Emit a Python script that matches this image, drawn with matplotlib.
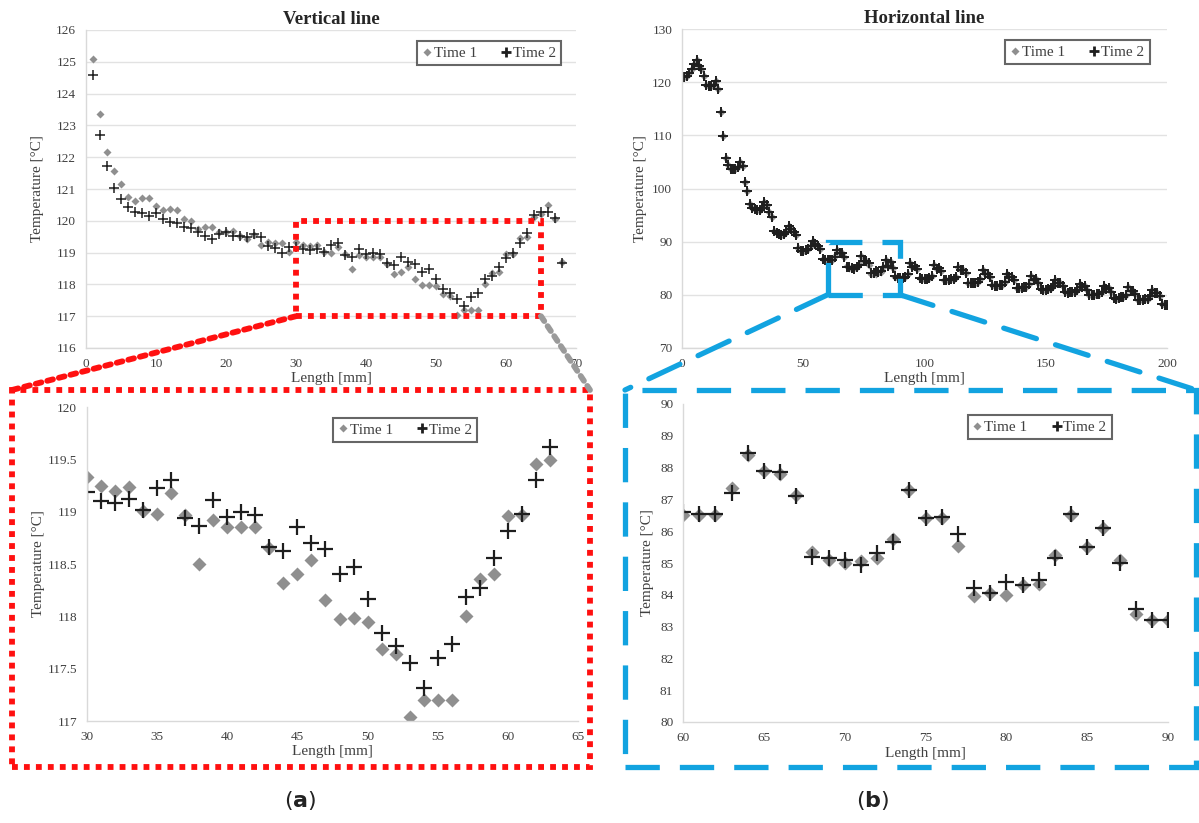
import numpy as np
import matplotlib.pyplot as plt
from matplotlib.patches import Rectangle, ConnectionPatch
from matplotlib.lines import Line2D
from matplotlib.ticker import FuncFormatter

plt.rcParams['font.family'] = ['Liberation Serif', 'DejaVu Serif']

# ================== data ============================= #
# vertical line, length 1..68 mm
v_x = list(range(1, 69))
v_time1 = [125.1, 123.35, 122.15, 121.57, 121.15, 120.75, 120.62, 120.72, 120.72, 120.46,
           120.33, 120.36, 120.33, 120.05, 119.98, 119.75, 119.8, 119.8, 119.64, 119.64,
           119.67, 119.53, 119.43, 119.55, 119.24, 119.33, 119.3, 119.3, 119.02, 119.33,
           119.25, 119.2, 119.24, 119.01, 118.98, 119.18, 118.97, 118.5, 118.92, 118.85,
           118.85, 118.85, 118.65, 118.32, 118.4, 118.54, 118.16, 117.97, 117.98, 117.95,
           117.69, 117.64, 117.04, 117.2, 117.2, 117.2, 118.0, 118.36, 118.4, 118.96,
           118.97, 119.46, 119.49, 120.13, 120.2, 120.5, 120.05, 118.7]
v_time2 = [124.6, 122.7, 121.73, 121.02, 120.68, 120.42, 120.27, 120.24, 120.16, 120.24,
           120.05, 119.96, 119.92, 119.8, 119.76, 119.64, 119.53, 119.42, 119.6, 119.64,
           119.53, 119.53, 119.48, 119.57, 119.5, 119.21, 119.15, 118.99, 119.18, 119.19,
           119.1, 119.08, 119.12, 119.02, 119.23, 119.3, 118.94, 118.86, 119.11, 118.95,
           119.0, 118.97, 118.66, 118.62, 118.85, 118.7, 118.64, 118.4, 118.47, 118.17,
           117.84, 117.72, 117.55, 117.32, 117.6, 117.74, 118.18, 118.27, 118.56, 118.82,
           118.98, 119.3, 119.62, 120.18, 120.29, 120.29, 120.1, 118.66]

# horizontal line, length 1..200 mm
h_x = list(range(1, 201))
h_time1 = [121.0, 121.2, 121.7, 122.4, 123.4, 124.2, 123.0, 122.4, 121.2, 119.4,
           119.3, 119.3, 119.4, 120.2, 118.8, 114.3, 109.9, 105.8, 104.4, 103.7,
           103.6, 103.7, 104.0, 104.9, 104.2, 101.3, 99.5, 97.0, 96.3, 96.1,
           95.9, 96.0, 96.4, 97.4, 96.9, 95.6, 94.6, 92.1, 91.6, 91.4,
           91.3, 91.5, 91.9, 92.9, 92.3, 91.9, 91.3, 88.8, 88.3, 88.2,
           88.4, 88.6, 89.2, 90.2, 89.6, 89.2, 88.7, 86.7, 86.6, 86.5,
           86.5, 86.5, 87.35, 88.4, 87.9, 87.8, 87.15, 85.35, 85.1, 85.0,
           85.05, 85.15, 85.75, 87.3, 86.4, 86.4, 85.55, 83.95, 84.05, 84.0,
           84.3, 84.35, 85.25, 86.5, 85.5, 86.1, 85.1, 83.4, 83.2, 83.2,
           83.2, 83.3, 83.9, 86.0, 85.3, 85.4, 84.8, 83.1, 82.9, 83.0,
           83.0, 83.2, 83.6, 85.6, 84.9, 85.0, 84.4, 82.8, 82.7, 82.8,
           82.9, 83.0, 83.4, 85.3, 84.6, 84.7, 84.1, 82.3, 82.2, 82.2,
           82.3, 82.4, 82.9, 84.6, 83.9, 84.0, 83.4, 81.8, 81.7, 81.7,
           81.8, 81.9, 82.4, 84.0, 83.3, 83.4, 82.8, 81.3, 81.2, 81.3,
           81.4, 81.5, 82.0, 83.5, 82.8, 82.9, 82.3, 81.1, 81.0, 81.0,
           81.1, 81.2, 81.6, 82.8, 82.2, 82.3, 81.7, 80.5, 80.4, 80.5,
           80.6, 80.6, 81.0, 82.1, 81.5, 81.6, 81.0, 80.0, 79.9, 80.0,
           80.1, 80.1, 80.6, 81.7, 81.1, 81.2, 80.6, 79.4, 79.3, 79.4,
           79.5, 79.5, 80.0, 81.4, 80.7, 80.8, 80.2, 79.1, 79.0, 79.1,
           79.2, 79.2, 79.7, 80.9, 80.3, 80.4, 79.7, 78.2, 78.1, 78.1]
h_time2 = [121.0, 121.2, 121.7, 122.4, 123.4, 124.2, 123.0, 122.4, 121.2, 119.4,
           119.3, 119.3, 119.4, 120.2, 118.8, 114.3, 109.9, 105.8, 104.4, 103.7,
           103.6, 103.7, 104.0, 104.9, 104.2, 101.3, 99.5, 97.0, 96.3, 96.1,
           95.9, 96.0, 96.4, 97.4, 96.9, 95.6, 94.6, 92.1, 91.6, 91.4,
           91.3, 91.5, 91.9, 92.9, 92.3, 91.9, 91.3, 88.8, 88.3, 88.2,
           88.4, 88.6, 89.2, 90.2, 89.6, 89.2, 88.7, 86.7, 86.6, 86.6,
           86.55, 86.55, 87.2, 88.45, 87.9, 87.85, 87.1, 85.2, 85.15, 85.1,
           84.95, 85.3, 85.65, 87.3, 86.4, 86.45, 85.9, 84.2, 84.05, 84.4,
           84.3, 84.45, 85.15, 86.55, 85.5, 86.1, 85.0, 83.55, 83.2, 83.2,
           83.2, 83.3, 83.9, 86.0, 85.3, 85.4, 84.8, 83.1, 82.9, 83.0,
           83.0, 83.2, 83.6, 85.6, 84.9, 85.0, 84.4, 82.8, 82.7, 82.8,
           82.9, 83.0, 83.4, 85.3, 84.6, 84.7, 84.1, 82.3, 82.2, 82.2,
           82.3, 82.4, 82.9, 84.6, 83.9, 84.0, 83.4, 81.8, 81.7, 81.7,
           81.8, 81.9, 82.4, 84.0, 83.3, 83.4, 82.8, 81.3, 81.2, 81.3,
           81.4, 81.5, 82.0, 83.5, 82.8, 82.9, 82.3, 81.1, 81.0, 81.0,
           81.1, 81.2, 81.6, 82.8, 82.2, 82.3, 81.7, 80.5, 80.4, 80.5,
           80.6, 80.6, 81.0, 82.1, 81.5, 81.6, 81.0, 80.0, 79.9, 80.0,
           80.1, 80.1, 80.6, 81.7, 81.1, 81.2, 80.6, 79.4, 79.3, 79.4,
           79.5, 79.5, 80.0, 81.4, 80.7, 80.8, 80.2, 79.1, 79.0, 79.1,
           79.2, 79.2, 79.7, 80.9, 80.3, 80.4, 79.7, 78.2, 78.1, 78.1]

# axis ranges / ticks
v_xlim, v_ylim = (0, 70), (116, 126)
v_xticks, v_yticks = np.arange(0, 71, 10), np.arange(116, 127, 1)
h_xlim, h_ylim = (0, 200), (70, 130)
h_xticks, h_yticks = np.arange(0, 201, 50), np.arange(70, 131, 10)

# zoom windows
vz_xlim, vz_ylim = (30, 65), (117, 120)
vz_xticks, vz_yticks = np.arange(30, 66, 5), np.arange(117, 120.01, 0.5)
hz_xlim, hz_ylim = (60, 90), (80, 90)
hz_xticks, hz_yticks = np.arange(60, 91, 5), np.arange(80, 91, 1)

GREY = '#8f8f8f'
BLACK = '#1e1e1e'
RED = '#ff1010'
BLUE = '#12a3e0'
TXT = '#404040'

W, H = 1199, 823
fig = plt.figure(figsize=(W / 100, H / 100), dpi=100)


def px_axes(l, r, t, b):
    return fig.add_axes([l / W, (H - b) / H, (r - l) / W, (b - t) / H])


def style(ax, grid, ypad):
    for s in ['top', 'right']:
        ax.spines[s].set_visible(False)
    for s in ['left', 'bottom']:
        ax.spines[s].set_color('#d9d9d9')
        ax.spines[s].set_linewidth(1.0)
    ax.tick_params(length=0, colors=TXT, labelsize=9.5, pad=7)
    ax.yaxis.set_major_formatter(FuncFormatter(lambda v, p: '%g' % v))
    if grid:
        ax.yaxis.grid(True, color='#e2e2e2', lw=1.0)
        ax.set_axisbelow(True)
    ax.set_xlabel('Length [mm]', fontsize=11, color=TXT, labelpad=2)
    ax.set_ylabel('Temperature [\u00b0C]', fontsize=11, color=TXT, labelpad=ypad)


def legend(ax, ms_d, ms_p, anchor):
    hd = [Line2D([], [], ls='none', marker='D', ms=ms_d, color=GREY, mec='none'),
          Line2D([], [], ls='none', marker='+', ms=ms_p, mew=2, color=BLACK)]
    lg = ax.legend(hd, ['Time 1', 'Time 2'], ncol=2, loc='upper right',
                   bbox_to_anchor=anchor, fontsize=11, frameon=True, fancybox=False,
                   handlelength=0.6, handletextpad=0.15, columnspacing=1.6,
                   borderpad=0.35)
    lg.get_frame().set_edgecolor('#404040')
    lg.get_frame().set_linewidth(1.5)
    for t in lg.get_texts():
        t.set_color(TXT)


# ---- top-left : vertical line ----
ax1 = px_axes(86, 576, 30, 348)
ax1.plot(v_x, v_time1, ls='none', marker='D', ms=3.6, color=GREY, mec='none')
ax1.plot(v_x, v_time2, ls='none', marker='+', ms=7, mew=1.1, color=BLACK)
ax1.set_xlim(v_xlim)
ax1.set_ylim(v_ylim)
ax1.set_xticks(v_xticks)
ax1.set_yticks(v_yticks)
style(ax1, True, 9)
ax1.set_title('Vertical line', fontsize=13.5, fontweight='bold', color='#262626', pad=4)
legend(ax1, 4, 7, (0.985, 0.99))

# ---- top-right : horizontal line ----
ax2 = px_axes(682, 1167, 29, 348)
ax2.plot(h_x, h_time1, ls='none', marker='D', ms=3.6, color=GREY, mec='none')
ax2.plot(h_x, h_time2, ls='none', marker='+', ms=7, mew=1.4, color=BLACK)
ax2.set_xlim(h_xlim)
ax2.set_ylim(h_ylim)
ax2.set_xticks(h_xticks)
ax2.set_yticks(h_yticks)
style(ax2, True, 4)
ax2.set_title('Horizontal line', fontsize=13.5, fontweight='bold', color='#262626', pad=4)
legend(ax2, 4, 7, (0.98, 0.99))

# ---- bottom-left : zoom of vertical line ----
ax3 = px_axes(87, 578, 407, 721)
ax3.plot(v_x, v_time1, ls='none', marker='D', ms=7, color=GREY, mec='none', clip_on=True)
ax3.plot(v_x, v_time2, ls='none', marker='+', ms=12, mew=1.6, color=BLACK)
ax3.set_xlim(vz_xlim)
ax3.set_ylim(vz_ylim)
ax3.set_xticks(vz_xticks)
ax3.set_yticks(vz_yticks)
style(ax3, False, 2)
legend(ax3, 4, 7, (0.81, 0.99))

# ---- bottom-right : zoom of horizontal line ----
ax4 = px_axes(683, 1168, 404, 722)
ax4.plot(h_x, h_time1, ls='none', marker='D', ms=7, color=GREY, mec='none')
ax4.plot(h_x, h_time2, ls='none', marker='+', ms=12, mew=1.6, color=BLACK)
ax4.set_xlim(hz_xlim)
ax4.set_ylim(hz_ylim)
ax4.set_xticks(hz_xticks)
ax4.set_yticks(hz_yticks)
style(ax4, False, 4)
legend(ax4, 4, 7, (0.9, 0.99))

# ---- zoom boxes and connectors ----
dot = dict(lw=4.2, ls=(0, (1, 1.05)), dash_capstyle='butt')
dash = dict(lw=3.8, ls=(0, (6.5, 3.8)), dash_capstyle='butt')

ax1.add_patch(Rectangle((vz_xlim[0], vz_ylim[0]), vz_xlim[1] - vz_xlim[0], vz_ylim[1] - vz_ylim[0],
                        fill=False, edgecolor=RED, clip_on=False, zorder=5, lw=4.2, ls=(0, (1, 1.05))))
ax2.add_patch(Rectangle((hz_xlim[0], hz_ylim[0]), hz_xlim[1] - hz_xlim[0], hz_ylim[1] - hz_ylim[0],
                        fill=False, edgecolor=BLUE, clip_on=False, zorder=5, lw=3.8, ls=(0, (6.5, 3.8))))

red_box = (12 / W, (H - 767) / H, 578 / W, 377 / H)
blue_box = (625 / W, (H - 767) / H, 571 / W, 377 / H)
fig.add_artist(Rectangle(red_box[:2], red_box[2], red_box[3], transform=fig.transFigure,
                         fill=False, edgecolor=RED, lw=4.2, ls=(0, (1, 1.05)), zorder=10))
fig.add_artist(Rectangle(blue_box[:2], blue_box[2], blue_box[3], transform=fig.transFigure,
                         fill=False, edgecolor=BLUE, lw=3.8, ls=(0, (6.5, 3.8)), zorder=10))

cons = [
    ((vz_xlim[0], vz_ylim[0]), ax1, (red_box[0], red_box[1] + red_box[3]), RED, dot),
    ((vz_xlim[1], vz_ylim[0]), ax1, (red_box[0] + red_box[2], red_box[1] + red_box[3]), '#9a9a9a', dot),
    ((hz_xlim[0], hz_ylim[0]), ax2, (blue_box[0], blue_box[1] + blue_box[3]), BLUE, dash),
    ((hz_xlim[1], hz_ylim[0]), ax2, (blue_box[0] + blue_box[2], blue_box[1] + blue_box[3]), BLUE, dash),
]
for xyA, axA, xyB, col, st in cons:
    c = ConnectionPatch(xyA=xyA, coordsA=axA.transData, xyB=xyB, coordsB=fig.transFigure,
                        color=col, zorder=10, **{k: v for k, v in st.items() if k != 'dash_capstyle'})
    fig.add_artist(c)

# ---- panel labels ----
fig.text(300 / W, (H - 800) / H, r'($\mathbf{a}$)', fontsize=16, family='DejaVu Sans',
         ha='center', va='center', color='#222222')
fig.text(873 / W, (H - 800) / H, r'($\mathbf{b}$)', fontsize=16, family='DejaVu Sans',
         ha='center', va='center', color='#222222')
plt.rcParams['mathtext.fontset'] = 'dejavusans'

fig.savefig('out.png', dpi=100)
